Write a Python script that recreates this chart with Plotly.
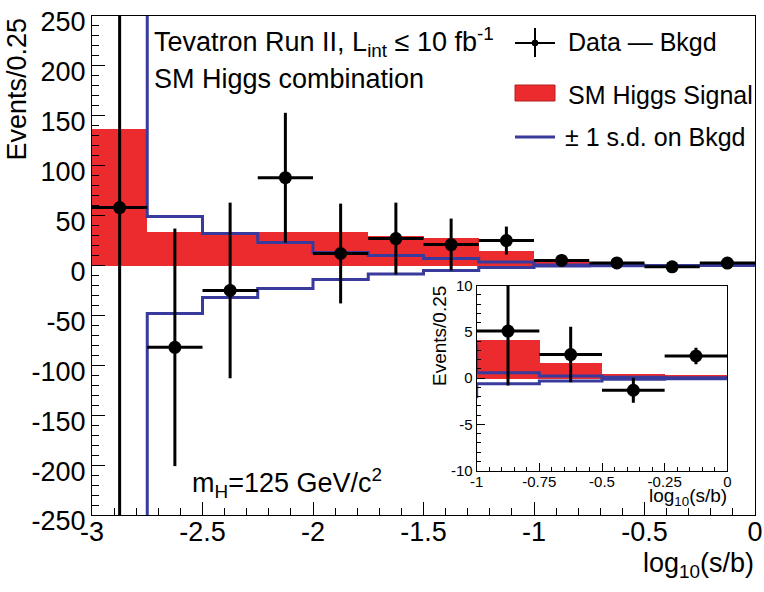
import plotly.graph_objects as go

# bins of log10(s/b), width 0.25
bin_centers = [-2.875, -2.625, -2.375, -2.125, -1.875, -1.625,
               -1.375, -1.125, -0.875, -0.625, -0.375, -0.125]
bin_width = 0.25

# data minus background, with symmetric stat errors
data_minus_bkgd = [58, -82, -25, 88, 12, 27, 21, 25, 5.1, 2.55, -1.3, 2.4]
data_err = [320, 119, 88, 65, 50, 36, 26, 14, 5.9, 3.0, 1.35, 0.9]

# expected SM Higgs signal (mH = 125)
signal = [137, 34, 34, 34, 34, 30, 28, 15, 4.2, 1.65, 0.5, 0.35]

# +-1 s.d. on background after fit
bkgd_sd_up = [300, 49, 32, 23, 13, 10, 7, 3.5, 0.6, 0.25, 0.1, 0.05]
bkgd_sd_down = [-300, -48, -32, -23, -14, -8.5, -5, -2, -0.6, -0.3, -0.1, -0.05]

main_xticks = [-3, -2.5, -2, -1.5, -1, -0.5, 0]
main_xtext = ['-3', '-2.5', '-2', '-1.5', '-1', '-0.5', '0']
main_yticks = [-250, -200, -150, -100, -50, 0, 50, 100, 150, 200, 250]
main_ytext = ['-250', '-200', '-150', '-100', '-50', '0', '50', '100', '150', '200', '250']
inset_xticks = [-1, -0.75, -0.5, -0.25, 0]
inset_xtext = ['-1', '-0.75', '-0.5', '-0.25', '0']
inset_yticks = [-10, -5, 0, 5, 10]
inset_ytext = ['-10', '-5', '0', '5', '10']

RED = '#EC2B2E'
BLUE = '#393B9C'
FONT = 'Liberation Sans, Arial, sans-serif'

# main frame in pixels (used to place text / legend)
L, R, T, B = 92, 755, 16, 515
W, H = R - L, B - T


def px(x):
    return (x - L) / W


def py(y):
    return (B - y) / H


def steps(vals):
    xs = [c - bin_width / 2 for c in bin_centers] + [bin_centers[-1] + bin_width / 2]
    return xs, list(vals) + [vals[-1]]


fig = go.Figure()

for xa, ya, sl in [('x', 'y', slice(None)), ('x2', 'y2', slice(8, None))]:
    fig.add_trace(go.Bar(
        x=bin_centers[sl], y=signal[sl], width=bin_width,
        marker=dict(color=RED, line=dict(width=0)),
        xaxis=xa, yaxis=ya))
    for sd in (bkgd_sd_up, bkgd_sd_down):
        sx, sy = steps(sd)
        fig.add_trace(go.Scatter(
            x=sx, y=sy, mode='lines', line=dict(color=BLUE, width=3, shape='hv'),
            xaxis=xa, yaxis=ya))
    fig.add_trace(go.Scatter(
        x=bin_centers[sl], y=data_minus_bkgd[sl], mode='markers',
        marker=dict(color='black', size=13),
        error_y=dict(type='data', array=data_err[sl], color='black', thickness=3, width=0),
        error_x=dict(type='constant', value=bin_width / 2, color='black', thickness=3, width=0),
        xaxis=xa, yaxis=ya))

axis_common = dict(showline=True, linecolor='black', linewidth=1, mirror=True,
                   ticks='inside', tickcolor='black', tickwidth=1,
                   showgrid=False, zeroline=False, automargin=False,
                   ticklabeloverflow='allow',
                   tickfont=dict(family=FONT, color='black'))

fig.update_layout(
    xaxis=dict(axis_common, domain=[0, 1], range=[-3, 0], anchor='y',
               tickvals=main_xticks, ticktext=main_xtext, ticklen=13, ticklabelstandoff=-7,
               tickfont=dict(family=FONT, size=27, color='black'),
               minor=dict(ticks='inside', ticklen=7, dtick=0.1, tick0=0, tickcolor='black')),
    yaxis=dict(axis_common, domain=[0, 1], range=[-250, 250], anchor='x',
               tickvals=main_yticks, ticktext=main_ytext, ticklen=13, ticklabelshift=6,
               tickfont=dict(family=FONT, size=27, color='black'),
               minor=dict(ticks='inside', ticklen=7, dtick=10, tick0=0, tickcolor='black')),
    xaxis2=dict(axis_common, domain=[px(476.7), px(727.3)], range=[-1, 0], anchor='y2',
                tickvals=inset_xticks, ticktext=inset_xtext, ticklen=8, ticklabelstandoff=-3,
                tickfont=dict(family=FONT, size=15, color='black'),
                minor=dict(ticks='inside', ticklen=4, dtick=0.05, tick0=0, tickcolor='black')),
    yaxis2=dict(axis_common, domain=[py(470.7), py(285.7)], range=[-10, 10], anchor='x2',
                tickvals=inset_yticks, ticktext=inset_ytext, ticklen=8,
                tickfont=dict(family=FONT, size=15, color='black'),
                minor=dict(ticks='inside', ticklen=4, dtick=1, tick0=0, tickcolor='black')),
    width=764, height=592,
    margin=dict(l=L, r=764 - R, t=T, b=592 - B),
    plot_bgcolor='white', paper_bgcolor='white',
    showlegend=False, bargap=0,
    font=dict(family=FONT, color='black'),
)


def note(text, x, y, size=27, xanchor='left', yanchor='middle', angle=0):
    fig.add_annotation(text=text, x=px(x), y=py(y), xref='paper', yref='paper',
                       xanchor=xanchor, yanchor=yanchor, textangle=angle,
                       showarrow=False, font=dict(family=FONT, size=size, color='black'))


note('Tevatron Run II, L<sub>int</sub> ≤ 10 fb<sup>-1</sup>', 152, 42)
note('SM Higgs combination', 152, 79)
note('m<sub>H</sub>=125 GeV/c<sup>2</sup>', 190, 483)
note('Events/0.25', 16, 16, yanchor='top', xanchor='center', angle=-90)
note('log<sub>10</sub>(s/b)', 756, 565, xanchor='right')
note('Events/0.25', 439, 284, size=19, yanchor='top', xanchor='center', angle=-90)
note('log<sub>10</sub>(s/b)', 729, 497, size=19, xanchor='right')

# hand-made legend
note('Data — Bkgd', 566, 42, size=25)
note('SM Higgs Signal', 566, 95, size=25)
note('± 1 s.d. on Bkgd', 563, 137, size=25)
fig.add_shape(type='line', xref='paper', yref='paper', x0=px(515), x1=px(555), y0=py(43), y1=py(43),
              line=dict(color='black', width=2))
fig.add_shape(type='line', xref='paper', yref='paper', x0=px(535), x1=px(535), y0=py(28), y1=py(57),
              line=dict(color='black', width=2))
fig.add_shape(type='circle', xref='paper', yref='paper', x0=px(532), x1=px(538), y0=py(40), y1=py(46),
              fillcolor='black', line=dict(color='black', width=1))
fig.add_shape(type='rect', xref='paper', yref='paper', x0=px(515), x1=px(555), y0=py(101), y1=py(85),
              fillcolor=RED, line=dict(color='#B02020', width=1))
fig.add_shape(type='line', xref='paper', yref='paper', x0=px(515), x1=px(555), y0=py(137), y1=py(137),
              line=dict(color=BLUE, width=3))

# page body margin would shift the figure by 8px
fig.write_html("out.html", config={'displayModeBar': False},
               post_script="document.body.style.margin='0';")
